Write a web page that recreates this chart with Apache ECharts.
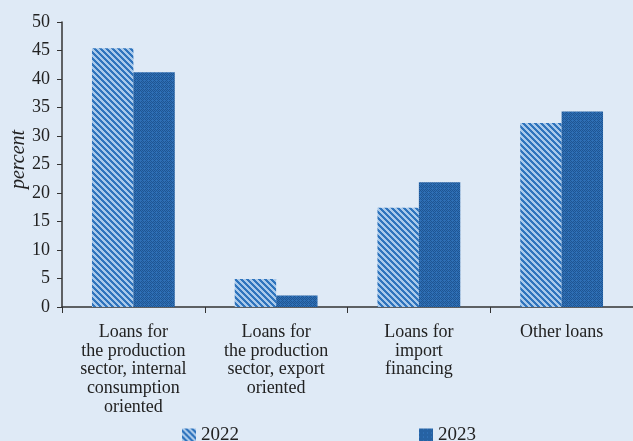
<!DOCTYPE html>
<html><head><meta charset="utf-8">
<script src="https://cdn.jsdelivr.net/npm/echarts@6/dist/echarts.min.js"></script>
<style>html,body{margin:0;padding:0;background:#dfeaf6;}#c{width:633px;height:441px;}</style>
</head><body><div id="c"></div>
<script>
const categories = ["Loans for\nthe production\nsector, internal\nconsumption\noriented", "Loans for\nthe production\nsector, export\noriented", "Loans for\nimport\nfinancing", "Other loans"];
const values2022 = [45.4, 4.9, 17.4, 32.3];
const values2023 = [41.2, 2.0, 21.9, 34.3];
const yTicks = {min: 0, max: 50, interval: 5};

function stripe() {
  const n = 6, c = document.createElement('canvas'); c.width = n; c.height = n;
  const g = c.getContext('2d');
  for (let x = 0; x < n; x++) for (let y = 0; y < n; y++) {
    g.fillStyle = (((x - y) % n + n) % n) < 3 ? '#a9c9ea' : '#2f74bd';
    g.fillRect(x, y, 1, 1);
  }
  return c;
}
function check() {
  const n = 4, c = document.createElement('canvas'); c.width = n; c.height = n;
  const g = c.getContext('2d');
  g.fillStyle = '#2e6fb5'; g.fillRect(0, 0, n, n);
  g.fillStyle = '#1f5592';
  for (let x = 0; x < n; x++) for (let y = 0; y < n; y++) {
    if ((x + y) % 2 === 0 && !(x % 4 === 0 && y % 4 === 0)) g.fillRect(x, y, 1, 1);
  }
  return c;
}
const p1 = {image: stripe(), repeat: 'repeat'};
const p2 = {image: check(), repeat: 'repeat'};
const font = 'Liberation Serif';
const chart = echarts.init(document.getElementById('c'));
chart.setOption({
  backgroundColor: '#dfeaf6',
  animation: false,
  textStyle: {fontFamily: font},
  grid: {left: 62, right: 0, top: 22, bottom: 134, containLabel: false, outerBoundsMode: 'none'},
  legend: {
    top: 421, left: 177, itemGap: 180, itemWidth: 14, itemHeight: 14,
    textStyle: {fontFamily: font, fontSize: 19, color: '#222'},
    data: [{name: '2022', icon: 'rect'}, {name: '2023', icon: 'rect'}]
  },
  xAxis: {
    type: 'category', data: categories,
    axisLine: {lineStyle: {color: '#333', width: 1.5}},
    axisTick: {show: true, length: 6, lineStyle: {color: '#333'}},
    axisLabel: {fontFamily: font, fontSize: 18, color: '#222', lineHeight: 18.7, margin: 16, interval: 0}
  },
  yAxis: {
    type: 'value', min: yTicks.min, max: yTicks.max, interval: yTicks.interval,
    name: 'percent', nameLocation: 'middle', nameGap: 33, nameRotate: 90, nameMoveOverlap: false,
    nameTextStyle: {fontFamily: font, fontSize: 20, fontStyle: 'italic', color: '#222', padding: [0, 0, 0, 10]},
    axisLine: {show: true, lineStyle: {color: '#333', width: 1.5}},
    axisTick: {show: true, length: 5, lineStyle: {color: '#333'}},
    splitLine: {show: false},
    axisLabel: {fontFamily: font, fontSize: 18, color: '#222', margin: 12}
  },
  series: [
    {name: '2022', type: 'bar', data: values2022, barGap: '0%', barCategoryGap: '42%', itemStyle: {color: p1}},
    {name: '2023', type: 'bar', data: values2023, itemStyle: {color: p2}}
  ]
});
</script></body></html>
